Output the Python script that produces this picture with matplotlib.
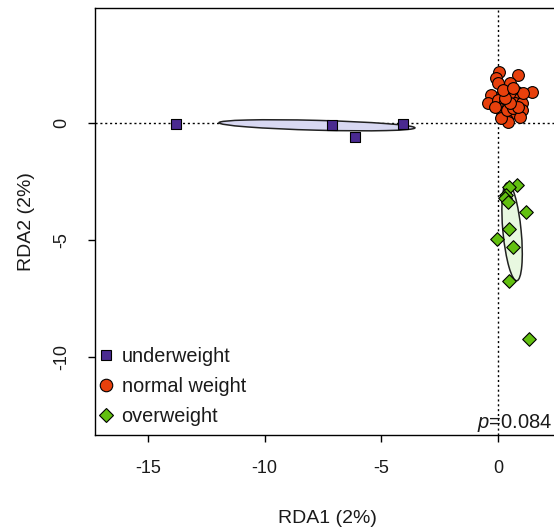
import matplotlib
matplotlib.use("Agg")
import matplotlib.pyplot as plt
from matplotlib.patches import Ellipse
from matplotlib.lines import Line2D
import numpy as np

plt.rcParams['font.family'] = ['Liberation Sans', 'DejaVu Sans']
plt.rcParams['mathtext.fontset'] = 'custom'
plt.rcParams['mathtext.it'] = 'Liberation Sans:italic'
plt.rcParams['mathtext.rm'] = 'Liberation Sans'

# RDA site scores per group
under_x = [-13.8, -7.1, -6.13, -4.07]
under_y = [-0.04, -0.09, -0.60, -0.04]

normal_x = [0.04, 0.87, -0.10, -0.01, 0.51, 1.44, -0.30, 0.16, 0.80, 0.44,
            -0.44, 0.01, 0.59, 0.94, 0.30, 0.73, 1.02, 0.09, 0.44, 0.80,
            1.02, 0.23, 0.59, 0.94, 0.37, 0.44, 0.13, -0.13, 0.37, 0.66,
            0.87, 0.51, 0.30, 1.07, 0.23, 0.66]
normal_y = [2.19, 2.05, 1.91, 1.70, 1.70, 1.34, 1.20, 1.20, 1.34, 1.27,
            0.87, 0.98, 1.06, 1.06, 0.91, 0.84, 0.84, 0.59, 0.70, 0.56,
            0.56, 0.34, 0.41, 0.27, 0.13, 0.06, 0.20, 0.70, 0.56, 0.63,
            0.70, 0.84, 1.06, 1.27, 1.41, 1.48]

over_x = [0.80, 0.45, 0.34, 0.30, 0.42, 1.20, 0.47, -0.03, 0.63, 0.47, 1.34]
over_y = [-2.63, -2.74, -3.06, -3.21, -3.38, -3.79, -4.54, -4.94, -5.29, -6.74, -9.23]

# confidence ellipses: center, width, height, angle
under_ell = (-7.76, -0.1, 8.4, 0.42, -1.5)
over_ell = (0.60, -4.65, 4.2, 0.78, 95.5)

p_value = "0.084"

col_under = "#4a2a90"
col_normal = "#e8400c"
col_over = "#62c010"

fig = plt.figure(figsize=(5.54, 5.29), dpi=100)
ax = fig.add_axes([95 / 554, 1 - 435 / 529, 464 / 554, 427 / 529])
ax.set_xlim(-17.27, 2.61)
ax.set_ylim(-13.33, 4.91)

ax.axhline(0, color="black", ls=(0, (1.5, 2)), lw=1, zorder=1)
ax.axvline(0, color="black", ls=(0, (1.5, 2)), lw=1, zorder=1)

for (cx, cy, w, h, a), fc in [(under_ell, "#d8d8f2"), (over_ell, "#e8f8e0")]:
    ax.add_patch(Ellipse((cx, cy), w, h, angle=a, facecolor=fc,
                         edgecolor="#222222", lw=1.1, zorder=2))

ax.scatter(under_x, under_y, marker="s", s=42, c=col_under,
           edgecolors="black", linewidths=0.8, zorder=3)
ax.scatter(normal_x, normal_y, marker="o", s=72, c=col_normal,
           edgecolors="black", linewidths=0.8, zorder=3)
ax.scatter(over_x, over_y, marker="D", s=48, c=col_over,
           edgecolors="black", linewidths=0.8, zorder=3)

ax.set_xticks([-15, -10, -5, 0])
ax.set_xticklabels(["-15", "-10", "-5", "0"])
ax.set_yticks([0, -5, -10])
ax.set_yticklabels(["0", "-5", "-10"], rotation=90, va="center")
ax.tick_params(direction="out", length=5, width=1, labelsize=13, pad=13,
               labelcolor="#1a1a1a")
for s in ax.spines.values():
    s.set_linewidth(1)

ax.set_xlabel("RDA1 (2%)", fontsize=14, labelpad=24, color="#1a1a1a")
ax.set_ylabel("RDA2 (2%)", fontsize=14, labelpad=13, color="#1a1a1a")

ax.text(2.33, -13.28, "$p$=" + p_value, ha="right", va="bottom", fontsize=14.5,
        color="#1a1a1a")

handles = [
    Line2D([], [], ls="none", marker="s", ms=7.5, mfc=col_under, mec="black", mew=0.8),
    Line2D([], [], ls="none", marker="o", ms=9, mfc=col_normal, mec="black", mew=0.8),
    Line2D([], [], ls="none", marker="D", ms=7, mfc=col_over, mec="black", mew=0.8),
]
ax.legend(handles, ["underweight", "normal weight", "overweight"], loc="lower left",
          bbox_to_anchor=(-0.007, 0.007), frameon=False, fontsize=14.3,
          handlelength=0.8, handletextpad=0.4, labelspacing=0.55,
          borderaxespad=0.0, borderpad=0.3, labelcolor="#1a1a1a")

fig.savefig("out.png", dpi=100)
